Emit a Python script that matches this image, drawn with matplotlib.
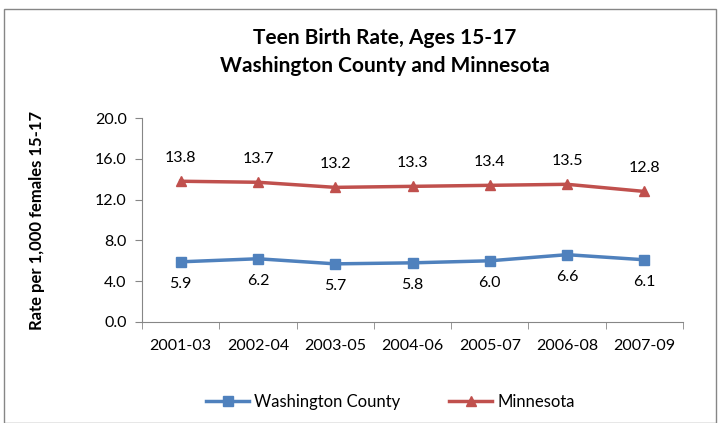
import matplotlib.pyplot as plt
from matplotlib.patches import Rectangle

plt.rcParams['font.family'] = ['Lato', 'DejaVu Sans']

periods = ['2001-03', '2002-04', '2003-05', '2004-06', '2005-07', '2006-08', '2007-09']
washington = [5.9, 6.2, 5.7, 5.8, 6.0, 6.6, 6.1]
minnesota = [13.8, 13.7, 13.2, 13.3, 13.4, 13.5, 12.8]

blue = '#4F81BD'
red = '#C0504D'
gray = '#868686'

fig = plt.figure(figsize=(7.19, 4.23), dpi=100)
fig.patches.append(Rectangle((0.006, 0.0), 0.99, 0.978, transform=fig.transFigure,
                             fill=False, edgecolor=gray, linewidth=1))
ax = fig.add_axes([0.1975, 0.2388, 0.7525, 0.4822])

x = list(range(len(periods)))
ax.plot(x, washington, color=blue, marker='s', markersize=7, linewidth=2.5, label='Washington County')
ax.plot(x, minnesota, color=red, marker='^', markersize=7, linewidth=2.5, label='Minnesota')

for i, v in enumerate(washington):
    ax.annotate(f'{v:.1f}', (i, v), xytext=(0, -16), textcoords='offset points',
                ha='center', va='center', fontsize=11.5)
for i, v in enumerate(minnesota):
    ax.annotate(f'{v:.1f}', (i, v), xytext=(0, 17), textcoords='offset points',
                ha='center', va='center', fontsize=11.5)

ax.set_yticks([0, 4, 8, 12, 16, 20])
ax.set_yticklabels([f'{t:.1f}' for t in [0, 4, 8, 12, 16, 20]], fontsize=11.5)
ax.set_xticks(x)
ax.set_xticklabels(periods, fontsize=11.5)
ax.set_xticks([i - 0.5 for i in range(len(periods) + 1)], minor=True)
ax.set_xlim(-0.5, len(periods) - 0.5)
ax.set_ylim(0, 20)
ax.tick_params(axis='x', which='major', length=0, pad=12)
ax.tick_params(axis='x', which='minor', length=5, color=gray, direction='out')
ax.tick_params(axis='y', length=5, color=gray, direction='out', pad=6)

for s in ['top', 'right']:
    ax.spines[s].set_visible(False)
ax.spines['left'].set_color(gray)
ax.spines['bottom'].set_color(gray)

ax.set_ylabel('Rate per 1,000 females 15-17', fontsize=12, fontweight='bold', labelpad=36)

fig.text(0.535, 0.91, 'Teen Birth Rate, Ages 15-17', ha='center', va='center',
         fontsize=15, fontweight='bold')
fig.text(0.535, 0.845, 'Washington County and Minnesota', ha='center', va='center',
         fontsize=15, fontweight='bold')

fig.legend(loc='center', bbox_to_anchor=(0.543, 0.05), ncol=2, frameon=False,
           fontsize=12, handlelength=2.6, columnspacing=2.9, handletextpad=0.3)

fig.savefig('out.png', dpi=100)
